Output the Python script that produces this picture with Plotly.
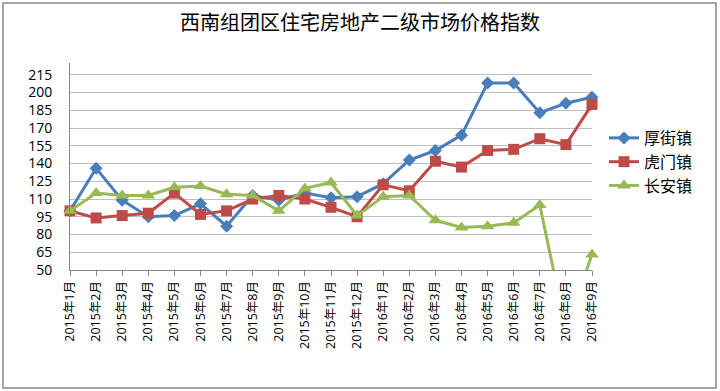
import plotly.graph_objects as go

months = ["2015年1月", "2015年2月", "2015年3月", "2015年4月", "2015年5月", "2015年6月",
          "2015年7月", "2015年8月", "2015年9月", "2015年10月", "2015年11月", "2015年12月",
          "2016年1月", "2016年2月", "2016年3月", "2016年4月", "2016年5月", "2016年6月",
          "2016年7月", "2016年8月", "2016年9月"]
houjie = [100, 136, 109, 95, 96, 106, 87, 113, 109, 115, 111, 112,
          123, 143, 151, 164, 208, 208, 183, 191, 196]
humen = [100, 94, 96, 98, 115, 97, 100, 110, 113, 110, 103, 95,
         122, 117, 142, 137, 151, 152, 161, 156, 190]
changan = [100, 115, 113, 113, 120, 121, 114, 113, 100, 119, 124, 96,
           112, 113, 92, 86, 87, 90, 105, 0, 63]
y_ticks = [50, 65, 80, 95, 110, 125, 140, 155, 170, 185, 200, 215]

cjk = "Noto Sans CJK SC, Noto Sans, sans-serif"
num = "Open Sans, Noto Sans CJK SC, sans-serif"

fig = go.Figure()
fig.add_trace(go.Scatter(x=months, y=houjie, name="厚街镇", mode="lines+markers",
                         cliponaxis=False,
                         line=dict(color="#4A7EBB", width=3),
                         marker=dict(symbol="diamond", size=10, color="#4A7EBB")))
fig.add_trace(go.Scatter(x=months, y=humen, name="虎门镇", mode="lines+markers",
                         cliponaxis=False,
                         line=dict(color="#BE4B48", width=3),
                         marker=dict(symbol="square", size=11, color="#BE4B48")))
fig.add_trace(go.Scatter(x=months, y=changan, name="长安镇", mode="lines+markers",
                         cliponaxis=False,
                         line=dict(color="#98B954", width=3),
                         marker=dict(symbol="triangle-up", size=12, color="#98B954")))

W, H = 720, 391
L, T, R, B = 70, 63, 128, 121
PW, PH = W - L - R, H - T - B

fig.update_layout(
    width=W, height=H,
    margin=dict(l=L, r=R, t=T, b=B, autoexpand=False),
    paper_bgcolor="white", plot_bgcolor="white",
    font=dict(family=cjk, color="#000000"),
    title=dict(text="西南组团区住宅房地产二级市场价格指数", x=0.5, xanchor="center",
               xref="container",
               y=1 - 23 / H, yanchor="middle",
               font=dict(size=20, family=cjk, color="#000000")),
    showlegend=True,
    legend=dict(x=(604 - L) / PW, y=(270 - 121) / PH, xanchor="left", yanchor="top",
                font=dict(size=16, family=cjk),
                bgcolor="rgba(0,0,0,0)"),
    xaxis=dict(type="category", range=[0, len(months) - 1],
               tickangle=-90, tickfont=dict(size=12.5, family=num),
               showgrid=False, showline=True, linecolor="#888888", linewidth=1,
               ticks="outside", ticklen=5, tickcolor="#888888", zeroline=False),
    yaxis=dict(range=[50, 225], tickvals=y_ticks, ticktext=[str(v) for v in y_ticks],
               tickfont=dict(size=14, family=num),
               showgrid=True, gridcolor="#BFBFBF", gridwidth=1,
               showline=True, linecolor="#888888", linewidth=1, zeroline=False,
               ticks="", ticklabelstandoff=14),
    shapes=[dict(type="rect", xref="paper", yref="paper",
                 x0=(3 - L) / PW, x1=(716 - L) / PW,
                 y0=(270 - 388) / PH, y1=(270 - 3) / PH,
                 line=dict(color="#888888", width=1.5), fillcolor="rgba(0,0,0,0)",
                 layer="below")],
)

fig.write_html("out.html", config={"displayModeBar": False},
               post_script="document.body.style.margin='0';document.body.style.overflow='hidden';")
